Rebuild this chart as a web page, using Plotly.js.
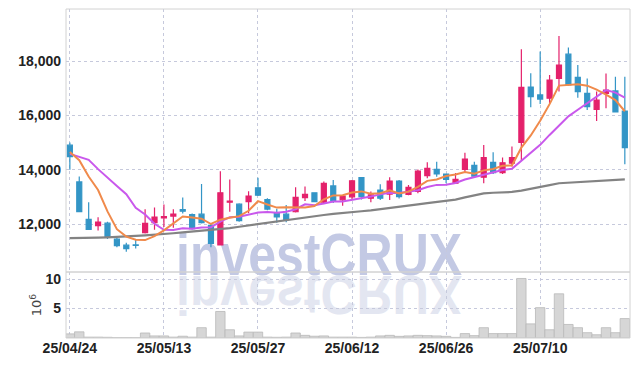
<!DOCTYPE html>
<html><head><meta charset="utf-8">
<script src="https://cdn.plot.ly/plotly-3.0.1.min.js"></script>
<style>html,body{margin:0;padding:0;background:#fff}#chart{width:639px;height:366px}</style>
</head><body><div id="chart"></div>
<script>
const dates = ['2025-04-24','2025-04-25','2025-04-28','2025-04-29','2025-04-30',
'2025-05-02','2025-05-07','2025-05-08','2025-05-09','2025-05-12','2025-05-13',
'2025-05-14','2025-05-15','2025-05-16','2025-05-19','2025-05-20','2025-05-21','2025-05-22','2025-05-23','2025-05-26','2025-05-27',
'2025-05-28','2025-05-29','2025-05-30','2025-06-02','2025-06-04','2025-06-05','2025-06-09','2025-06-10','2025-06-11','2025-06-12',
'2025-06-13','2025-06-16','2025-06-17','2025-06-18','2025-06-19','2025-06-20','2025-06-23','2025-06-24','2025-06-25','2025-06-26',
'2025-06-27','2025-06-30','2025-07-01','2025-07-02','2025-07-03','2025-07-04','2025-07-07','2025-07-08','2025-07-09','2025-07-10',
'2025-07-11','2025-07-14','2025-07-15','2025-07-16','2025-07-17','2025-07-18','2025-07-21','2025-07-22','2025-07-23'];
const tickDates = ['2025-04-24','2025-05-13','2025-05-27','2025-06-12','2025-06-26','2025-07-10'];
const tickLabels = ['25/04/24','25/05/13','25/05/27','25/06/12','25/06/26','25/07/10'];

const openP = [14900,13550,12170,11940,12030,11440,11220,11230,11680,12050,12220,
12290,12530,12350,12360,11950,11230,12800,12730,12820,13330,
12900,12400,12360,12450,12970,13150,12800,13400,12890,13000,
13710,12950,13250,13100,13580,13090,13200,13780,14010,13840,
13500,14010,14160,13720,14270,13890,14240,15000,17040,16750,
16630,17360,18250,17400,16810,16220,16810,16900,16160];
const highP = [15000,13750,12800,12250,12080,11500,11310,11430,12540,12610,12720,
12540,12980,12390,13470,11990,13940,13640,12760,13210,13700,
12950,12560,12700,13350,13380,13160,13560,13620,13050,13620,
13720,13200,13460,13720,13620,13440,14010,14270,14290,13850,
13880,14620,14290,14910,14640,14450,14850,18430,17550,18350,
17480,18920,18500,17850,17360,16880,17540,17420,17420];
const lowP = [14000,12430,11790,11760,11450,11140,10980,11100,11650,11790,11890,
11860,12390,11800,12020,11140,11220,12450,12080,12400,13030,
12510,12050,12060,12420,12850,12810,12760,12770,12670,12880,
12900,12800,12880,12880,12940,13060,13130,13680,13740,13500,
13470,13880,13690,13500,13840,13840,14120,14350,16300,16420,
16440,16880,17090,16650,16200,15790,16260,16120,14200];
const closeP = [14480,12450,11800,12070,11520,11200,11090,11210,12020,12250,12270,
12360,12470,11830,12050,11290,13150,12840,12120,13030,13060,
12550,12260,12160,12980,13090,12820,13500,12870,13030,13590,
13010,13070,12950,13580,13010,13350,13950,14050,13840,13640,
13640,14390,13760,14440,13890,14250,14440,17030,16690,16600,
17300,17850,17120,16870,16320,16560,16930,16130,14810];
const volumeM = [0.7,1.05,0.15,0.15,0.12,0.05,0.05,0.05,0.85,0.35,0.35,
0.15,0.3,0.15,1.75,0.15,4.5,1.4,0.35,1.0,1.0,
0.15,0.12,0.15,0.85,0.45,0.3,0.35,0.15,0.15,0.15,
0.1,0.15,0.35,0.45,0.28,0.35,0.45,0.4,0.35,0.28,
0.1,0.75,0.4,1.75,0.75,0.75,0.75,10.1,2.4,5.15,
1.4,7.5,2.3,1.75,0.9,0.55,1.75,0.9,3.3];
const ma5 = [14650,14350,13750,13250,12464,11808,11536,11418,11408,11554,11768,
12022,12274,12236,12196,12000,12158,12232,12290,12486,12840,
12720,12604,12612,12602,12608,12662,12910,13052,13062,13162,
13200,13114,13130,13240,13124,13192,13368,13588,13640,13766,
13824,13912,13854,13974,14024,14146,14156,14810,15260,15802,
16412,17094,17112,17148,17092,16944,16760,16562,16150];
const ma10 = [14580,14480,14360,14020,13700,13400,13100,12600,12350,12009,11788,
11779,11846,11822,11875,11884,12090,12253,12263,12341,12420,
12439,12418,12451,12544,12724,12691,12757,12832,12832,12885,
12931,13012,13091,13151,13143,13196,13241,13359,13440,13445,
13508,13640,13721,13807,13895,13985,14034,14332,14617,14913,
15279,15625,15961,16204,16447,16678,16927,16837,16649];
const maLong = [11480,11480,11490,11500,11510,11520,11540,11560,11580,11600,11630,
11660,11690,11720,11740,11770,11800,11850,11900,11950,12000,
12050,12100,12150,12200,12250,12290,12330,12370,12410,12440,
12470,12500,12540,12580,12620,12660,12720,12770,12810,12840,
12900,12980,13060,13130,13150,13160,13180,13230,13290,13360,
13430,13500,13520,13540,13560,13590,13620,13640,13640];

const tickFont = {family:'"Liberation Sans",Arial,sans-serif', size:14, color:'#222', weight:'bold'};
const gridC = '#c6c9dc';
const split = 0.2006;

const data = [
  {type:'bar', x:dates, y:volumeM, xaxis:'x', yaxis:'y',
   marker:{color:'#d6d6d6', line:{color:'#b9b9b9', width:0.8}}, hoverinfo:'skip'},
  {type:'candlestick', x:dates, open:openP, high:highP, low:lowP, close:closeP, xaxis:'x', yaxis:'y2',
   increasing:{line:{color:'#e4216b', width:1.2}, fillcolor:'#e4216b'},
   decreasing:{line:{color:'#3395c6', width:1.2}, fillcolor:'#3395c6'}, whiskerwidth:0},
  {type:'scatter', mode:'lines', x:dates, y:maLong, xaxis:'x', yaxis:'y2', line:{color:'#838383', width:2.2}},
  {type:'scatter', mode:'lines', x:dates, y:ma10, xaxis:'x', yaxis:'y2', line:{color:'#c958ec', width:2}},
  {type:'scatter', mode:'lines', x:dates, y:ma5, xaxis:'x', yaxis:'y2', line:{color:'#f08a4b', width:2}}
];

const wmFont = {family:'"Liberation Sans",Arial,sans-serif', size:50, weight:'bold'};
const layout = {
  width:639, height:366, margin:{l:66, r:9, t:9, b:28},
  paper_bgcolor:'#fff', plot_bgcolor:'rgba(0,0,0,0)', showlegend:false, bargap:0, boxgap:0.24,
  xaxis:{type:'category', range:[-0.41,59.55], tickvals:tickDates, ticktext:tickLabels,
    showgrid:true, gridcolor:gridC, griddash:'dot', gridwidth:1, zeroline:false, showline:false,
    ticks:'', tickfont:tickFont, rangeslider:{visible:false}, anchor:'y', fixedrange:true},
  yaxis:{domain:[0,split], range:[0,11.2], tickvals:[5,10], ticktext:['5','10'],
    showgrid:true, gridcolor:gridC, griddash:'dot', gridwidth:1, zeroline:false, showline:false,
    ticks:'', tickfont:tickFont, ticklabelstandoff:4, anchor:'x', fixedrange:true,
    title:{text:'10<sup>6</sup>', font:{family:'"DejaVu Sans",sans-serif', size:13, color:'#444'}, standoff:0}},
  yaxis2:{domain:[split,1], range:[10233,19914], tickvals:[12000,14000,16000,18000], tickformat:',d',
    showgrid:true, gridcolor:gridC, griddash:'dot', gridwidth:1, zeroline:false, showline:false,
    ticks:'', tickfont:tickFont, ticklabelstandoff:4, anchor:'x', fixedrange:true},
  shapes:[
    {type:'rect', xref:'paper', yref:'paper', x0:0, x1:1, y0:split, y1:1, line:{color:'#d2d2d2', width:1}},
    {type:'rect', xref:'paper', yref:'paper', x0:0, x1:1, y0:0, y1:split, line:{color:'#d2d2d2', width:1}}
  ],
  annotations:[
    {xref:'paper', yref:'paper', x:0.4486, y:0.25, xanchor:'center', yanchor:'middle', showarrow:false,
     text:'investCRUX', font:Object.assign({color:'#c3c9e4'}, wmFont)},
    {xref:'paper', yref:'paper', x:0.4486, y:0.25, xanchor:'center', yanchor:'middle', showarrow:false,
     text:'investCRUX', font:Object.assign({color:'#e3e6f1'}, wmFont)}
  ]
};

Plotly.newPlot('chart', data, layout, {staticPlot:true, displayModeBar:false}).then(function(gd){
  const anns = gd.querySelectorAll('g.annotation');
  if (anns.length < 2) return;
  const main = anns[0], refl = anns[1];
  const divRect = gd.getBoundingClientRect();
  const r = main.querySelector('text').getBoundingClientRect();
  const b = r.bottom - divRect.top - 0.212 * wmFont.size;
  const ns = 'http://www.w3.org/2000/svg';
  const svg = gd.querySelector('svg.main-svg');
  const cart = svg.querySelector('g.cartesianlayer');
  function moveBehind(node, tf) {
    const g = document.createElementNS(ns, 'g');
    g.setAttribute('transform', tf);
    g.appendChild(node);
    if (cart) svg.insertBefore(g, cart); else svg.appendChild(g);
  }
  moveBehind(main, 'translate(0,275) scale(1,1.18) translate(0,' + (-b) + ')');
  moveBehind(refl, 'translate(0,276) scale(1,-1.12) translate(0,' + (-b) + ')');
});
</script>
</body></html>
